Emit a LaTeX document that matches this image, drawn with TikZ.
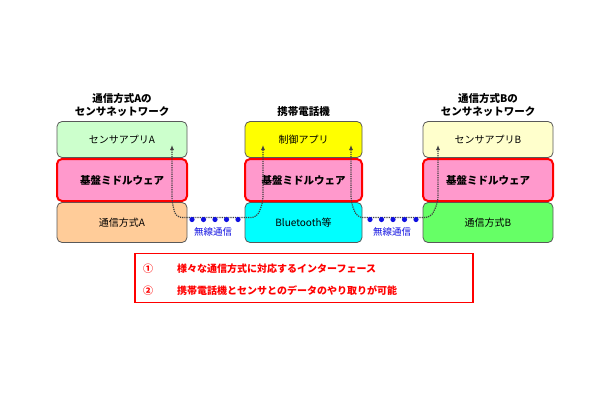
\documentclass[tikz,border=0pt]{standalone}
\usepackage{fontspec}
\setmainfont{Noto Sans CJK JP}
\usetikzlibrary{positioning,arrows.meta}

\definecolor{appgreen}{HTML}{CCFFCC}
\definecolor{appcream}{HTML}{FFFFCC}
\definecolor{appyellow}{HTML}{FFFF00}
\definecolor{mwpink}{HTML}{FF99CC}
\definecolor{commpeach}{HTML}{FFCC99}
\definecolor{commgreen}{HTML}{66FF66}
\definecolor{commcyan}{HTML}{00FFFF}
\definecolor{linkblue}{HTML}{1010E0}

\tikzset{
    layer/.style={draw=black!65, line width=0.8pt, rounded corners=5pt,
        minimum height=36pt, inner sep=0pt, font=\fontsize{10}{12}\selectfont},
    mwlayer/.style={layer, draw=red, line width=2pt, minimum height=42pt,
        font=\fontsize{10.5}{12}\selectfont\bfseries},
    caption/.style={align=center, inner sep=1pt,
        font=\fontsize{10.5}{13}\selectfont\bfseries},
    route/.style={densely dotted, line width=1.2pt, black!75,
        rounded corners=6pt, {Latex[length=5pt,width=4pt]}-{Latex[length=5pt,width=4pt]}},
    note/.style={text=red, inner sep=1pt, font=\fontsize{10}{12}\selectfont\bfseries}
}

\begin{document}
\begin{tikzpicture}[x=1pt, y=-1pt]
    \useasboundingbox (0,0) rectangle (610,400);

    % Sensor network A
    \node[layer, fill=appgreen, minimum width=130pt] (appA) at (122,139.5) {センサアプリA};
    \node[layer, fill=commpeach, minimum width=130pt, minimum height=40pt] (commA) at (122,222.5) {通信方式A};
    \node[mwlayer, fill=mwpink, minimum width=130pt] (mwA) at (122,180) {基盤ミドルウェア};
    \node[caption, above=3pt of appA] (titleA) {通信方式Aの\\センサネットワーク};

    % Mobile phone
    \node[layer, fill=appyellow, minimum width=117pt] (appP) at (303.5,139.5) {制御アプリ};
    \node[layer, fill=commcyan, minimum width=117pt, minimum height=40pt] (btP) at (303.5,222.5) {Bluetooth等};
    \node[mwlayer, fill=mwpink, minimum width=117pt] (mwP) at (303.5,180) {基盤ミドルウェア};
    \node[caption, above=3pt of appP] (titleP) {携帯電話機};

    % Sensor network B
    \node[layer, fill=appcream, minimum width=130pt] (appB) at (488,139.5) {センサアプリB};
    \node[layer, fill=commgreen, minimum width=130pt, minimum height=40pt] (commB) at (488,222.5) {通信方式B};
    \node[mwlayer, fill=mwpink, minimum width=130pt] (mwB) at (488,180) {基盤ミドルウェア};
    \node[caption, above=3pt of appB] (titleB) {通信方式Bの\\センサネットワーク};

    % End points of the data routes
    \coordinate (tipA) at (172,145);
    \coordinate (tipP1) at (263,145);
    \coordinate (tipP2) at (351,145);
    \coordinate (tipB) at (438,145);

    % Data routes
    \draw[route] (tipA) -- (tipA |- commA.north) -- (176,217.5) -- (257,217.5)
        -- (tipP1 |- btP.north) -- (tipP1);
    \draw[route] (tipP2) -- (tipP2 |- btP.north) -- (357,217.5) -- (431,217.5)
        -- (tipB |- commB.north) -- (tipB);

    % Wireless links
    \foreach \x in {192,203.5,215,226.5,238} {
        \fill[linkblue] (\x,219.5) circle (2.6);
    }
    \foreach \x in {370,381.5,393,404.5,416} {
        \fill[linkblue] (\x,219.5) circle (2.6);
    }
    \node[text=linkblue, font=\fontsize{9.5}{11}\selectfont] (wireA) at (213,231.5) {無線通信};
    \node[text=linkblue, font=\fontsize{9.5}{11}\selectfont] (wireB) at (392,231.5) {無線通信};

    % Notes
    \node[draw=red, line width=1.6pt, minimum width=338pt, minimum height=49pt] (notes) at (304,278) {};
    \node[note] (num1) at (148,269) {①};
    \node[note, anchor=west] (note1) at (176,269) {様々な通信方式に対応するインターフェース};
    \node[note] (num2) at (148,291) {②};
    \node[note, anchor=west] (note2) at (176,291) {携帯電話機とセンサとのデータのやり取りが可能};
\end{tikzpicture}
\end{document}
